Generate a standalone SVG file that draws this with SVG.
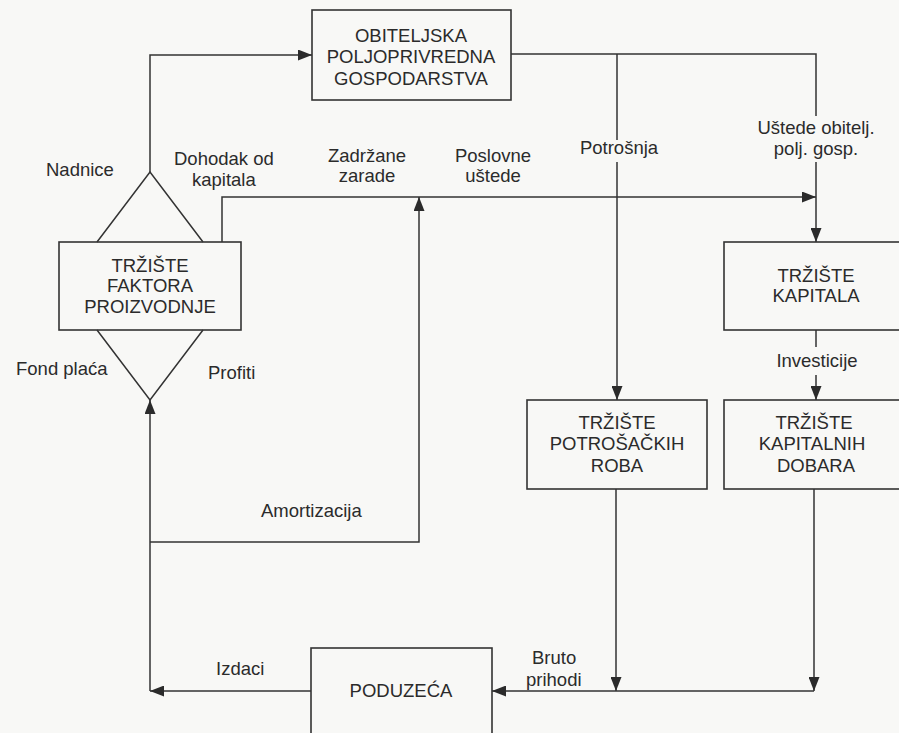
<svg xmlns="http://www.w3.org/2000/svg" width="899" height="733" viewBox="0 0 899 733">
<defs>
<style>
.box{fill:none;stroke:#333;stroke-width:1.6}
.ln{fill:none;stroke:#333;stroke-width:1.5}
.t{font-family:"Liberation Sans",Arial,sans-serif;font-size:18.5px;fill:#2b2b2b}
.c{text-anchor:middle}
</style>
<marker id="ah" viewBox="0 0 14 11" refX="14" refY="5.5" markerWidth="14" markerHeight="11" markerUnits="userSpaceOnUse" orient="auto">
<path d="M0,0 L14,5.5 L0,11 Z" fill="#2b2b2b"/>
</marker>
</defs>
<rect x="0" y="0" width="899" height="733" fill="#f8f8f6"/>

<g id="connectors">
<path class="ln" d="M97,242 L150,172 L203,242"/>
<path class="ln" d="M97,330 L150,400 L203,330"/>
<path class="ln" d="M150,172 V55 H312" marker-end="url(#ah)"/>
<path class="ln" d="M222,242 V197 H816" marker-end="url(#ah)"/>
<path class="ln" d="M511,54 H816 V116"/>
<path class="ln" d="M816,162 V242" marker-end="url(#ah)"/>
<path class="ln" d="M617,54 V140"/>
<path class="ln" d="M617,162 V400" marker-end="url(#ah)"/>
<path class="ln" d="M816,330 V347"/>
<path class="ln" d="M816,375 V400" marker-end="url(#ah)"/>
<path class="ln" d="M150,691 V400" marker-end="url(#ah)"/>
<path class="ln" d="M150,542 H419 V197" marker-end="url(#ah)"/>
<path class="ln" d="M616,489 V691" marker-end="url(#ah)"/>
<path class="ln" d="M814,489 V691" marker-end="url(#ah)"/>
<path class="ln" d="M814,691 H492" marker-end="url(#ah)"/>
<path class="ln" d="M311,691 H150" marker-end="url(#ah)"/>
</g>

<g id="labels">
<text class="t" x="46" y="176">Nadnice</text>
<text class="t" x="174" y="165">Dohodak od</text>
<text class="t" x="192" y="186">kapitala</text>
<text class="t c" x="367" y="162">Zadržane</text>
<text class="t c" x="367" y="182">zarade</text>
<text class="t c" x="493" y="162">Poslovne</text>
<text class="t c" x="493" y="182">uštede</text>
<text class="t c" x="619" y="154">Potrošnja</text>
<text class="t c" x="816" y="134">Uštede obitelj.</text>
<text class="t c" x="816" y="155">polj. gosp.</text>
<text class="t" x="16" y="375">Fond plaća</text>
<text class="t" x="208" y="379">Profiti</text>
<text class="t c" x="817" y="367">Investicije</text>
<text class="t" x="261" y="517">Amortizacija</text>
<text class="t" x="216" y="675">Izdaci</text>
<text class="t" x="532" y="664">Bruto</text>
<text class="t" x="526" y="686">prihodi</text>
</g>

<g id="obiteljska">
<rect class="box" x="312" y="10" width="199" height="90"/>
<text class="t c" x="411" y="42">OBITELJSKA</text>
<text class="t c" x="411" y="63">POLJOPRIVREDNA</text>
<text class="t c" x="411" y="85">GOSPODARSTVA</text>
</g>

<g id="trziste-faktora">
<rect class="box" x="59" y="242" width="182" height="88"/>
<text class="t c" x="150" y="272">TRŽIŠTE</text>
<text class="t c" x="150" y="292">FAKTORA</text>
<text class="t c" x="150" y="313">PROIZVODNJE</text>
</g>

<g id="trziste-kapitala">
<rect class="box" x="724" y="242" width="190" height="88"/>
<text class="t c" x="816" y="282">TRŽIŠTE</text>
<text class="t c" x="816" y="302">KAPITALA</text>
</g>

<g id="trziste-potrosackih">
<rect class="box" x="527" y="400" width="180" height="89"/>
<text class="t c" x="617" y="429">TRŽIŠTE</text>
<text class="t c" x="617" y="450">POTROŠAČKIH</text>
<text class="t c" x="617" y="472">ROBA</text>
</g>

<g id="trziste-kapitalnih">
<rect class="box" x="724" y="400" width="190" height="89"/>
<text class="t c" x="814" y="429">TRŽIŠTE</text>
<text class="t c" x="812" y="450">KAPITALNIH</text>
<text class="t c" x="816" y="472">DOBARA</text>
</g>

<g id="poduzeca">
<rect class="box" x="311" y="648" width="181" height="100"/>
<text class="t c" x="401" y="697">PODUZEĆA</text>
</g>
</svg>
